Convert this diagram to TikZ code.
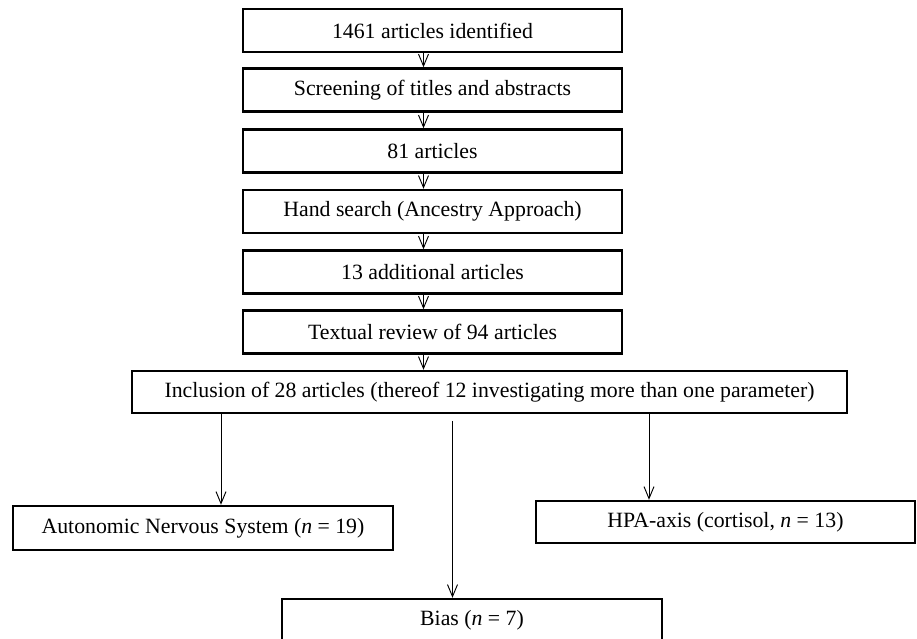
\documentclass[tikz,border=0pt]{standalone}
\usepackage{fontspec}
\setmainfont{Liberation Serif}
\usetikzlibrary{arrows.meta,positioning}

\begin{document}
\begin{tikzpicture}[x=0.03cm,y=-0.03cm]
          \useasboundingbox (0,0) rectangle (917,638);
          \tikzstyle{every node}=[font=\fontsize{18.6}{22}\selectfont]
          \tikzstyle{boite}=[draw,line width=2.1pt,inner sep=0pt,minimum width=11.37cm,minimum height=1.29cm]
          \tikzstyle{fleche}=[line width=0.8pt,-{Straight Barb[length=0.36cm,width=0.3cm,line width=0.8pt]}]

          % recherche
          \node[boite] (B1) at (432.5,30.5) {1461 articles identified};
          \node[boite] (B2) at (432.5,90) {Screening of titles and abstracts};
          \node[boite] (B3) at (432.5,151) {81 articles};
          \node[boite] (B4) at (432.5,211.5) {Hand search (Ancestry Approach)};
          \node[boite] (B5) at (432.5,272) {13 additional articles};
          \node[boite] (B6) at (432.5,332) {Textual review of 94 articles};
          \node[boite,minimum width=21.45cm,minimum height=1.26cm] (INC) at (489.5,392)
          {Inclusion of 28 articles (thereof 12 investigating more than one parameter)};

          \foreach \from/\to in {B1/B2,B2/B3,B3/B4,B4/B5,B5/B6,B6/INC}{
            \draw[fleche] ([xshift=-0.27cm]\from.south) -- ([xshift=-0.27cm]\to.north -| \from.south);
          }

          % parametres
          \node[boite,minimum width=11.4cm,minimum height=1.32cm] (ANS) at (203,528)
          {Autonomic Nervous System (\textit{n} = 19)};
          \node[boite,minimum height=1.26cm] (HPA) at (725.5,522)
          {HPA-axis (cortisol, \textit{n} = 13)};
          \node[boite,minimum width=11.4cm] (BIAS) at (472,620.5)
          {Bias (\textit{n} = 7)};

          \draw[fleche] (INC.south -| 221,0) -- (ANS.north -| 221,0);
          \draw[fleche,shorten <=0.2cm] (INC.south -| 452.5,0) -- (BIAS.north -| 452.5,0);
          \draw[fleche] (INC.south -| 649,0) -- (HPA.north -| 649,0);
\end{tikzpicture}
\end{document}
